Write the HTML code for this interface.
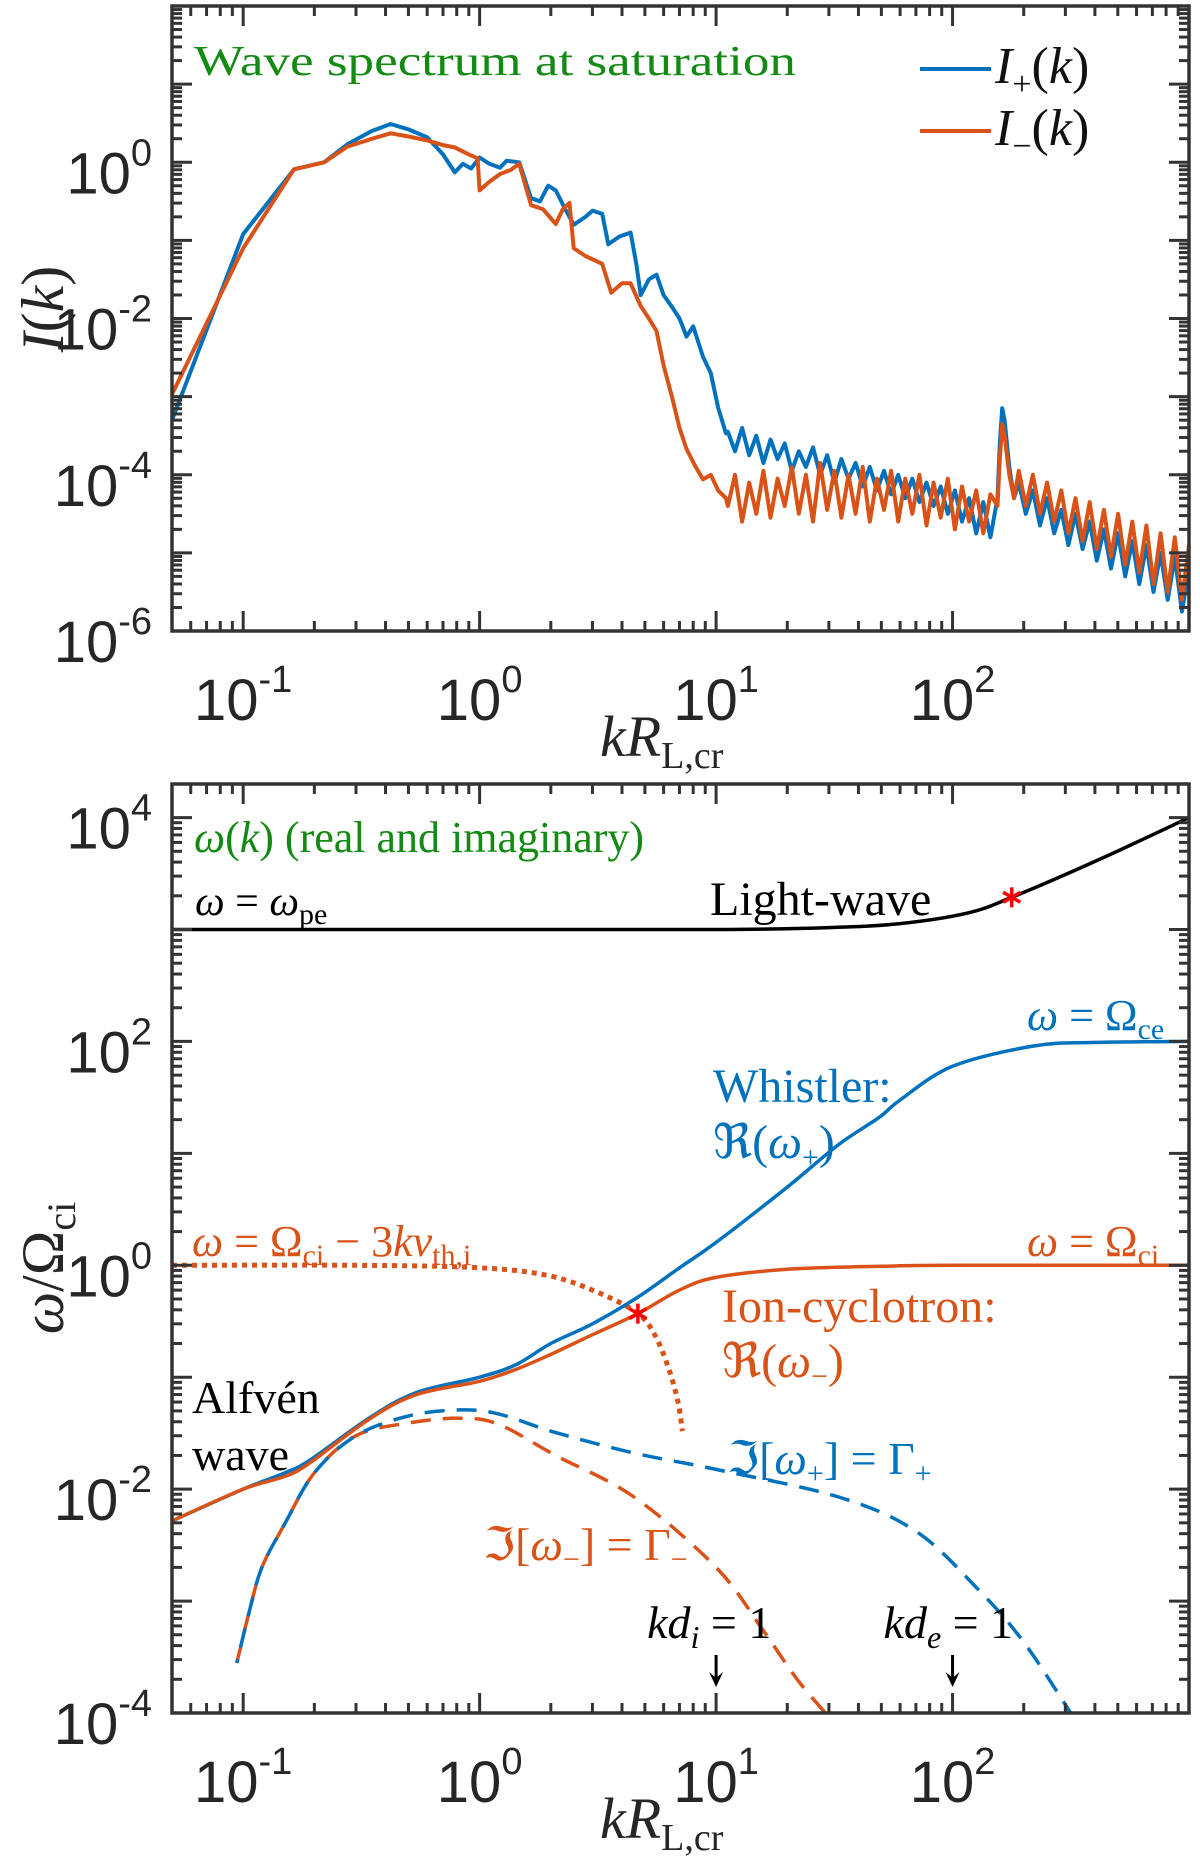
<!DOCTYPE html>
<html><head><meta charset="utf-8"><style>
html,body{margin:0;padding:0;background:#fff;}
svg{display:block;}
.tk{font-family:"Liberation Sans",sans-serif;fill:#262626;}
.sr{font-family:"Liberation Serif",serif;}
</style></head><body>
<svg id="fig" width="1200" height="1863" viewBox="0 0 1200 1863" xmlns="http://www.w3.org/2000/svg">
<g id="top"></g>
<g id="bot"></g>
</svg>
<script>
// ---------- top panel data ----------
const topKPlus = [0.05,0.1,0.164,0.22,0.276,0.35,0.42,0.5,0.6,0.7,0.785,0.85,0.92,1.0,1.1,1.22,1.3,1.47,1.65,1.8,1.95,2.1,2.3,2.5,2.8,3.0,3.3,3.5,3.9,4.35,4.6,4.8,5.2,5.6,6.0,6.5,7.0,7.5,8.0,8.8,9.5,10.2,11];
const topLogIPlus = [-3.3,-0.92,-0.09,0.0,0.23,0.4,0.49,0.42,0.32,0.1,-0.13,-0.02,-0.08,0.06,-0.02,-0.07,0.02,0.0,-0.46,-0.5,-0.3,-0.36,-0.6,-0.8,-0.7,-0.62,-0.66,-1.05,-0.95,-0.9,-1.3,-1.7,-1.5,-1.44,-1.7,-1.85,-2.0,-2.23,-2.1,-2.49,-2.7,-3.14,-3.47];
const topKMinus = [0.05,0.1,0.164,0.22,0.276,0.35,0.42,0.5,0.6,0.7,0.785,0.9,0.98,1.0,1.1,1.22,1.35,1.47,1.65,1.85,2.1,2.25,2.4,2.5,2.8,3.3,3.6,4.0,4.35,4.8,5.2,5.6,6.0,6.5,7.0,7.5,8.2,8.8,9.5,10.2,11];
const topLogIMinus = [-2.97,-1.1,-0.09,0.0,0.2,0.3,0.37,0.33,0.28,0.22,0.19,0.1,0.05,-0.36,-0.25,-0.15,-0.1,-0.02,-0.55,-0.6,-0.79,-0.6,-0.52,-1.1,-1.2,-1.3,-1.67,-1.55,-1.55,-1.84,-2.0,-2.16,-2.6,-3.0,-3.4,-3.67,-3.9,-4.06,-4.0,-4.2,-4.3];
const tailLogK = [1.05,1.08,1.11,1.14,1.17,1.20,1.23,1.26,1.29,1.32,1.35,1.38,1.41,1.44,1.47,1.50,1.53,1.56,1.59,1.62,1.65,1.68,1.71,1.74,1.77,1.80,1.83,1.86,1.89,1.92,1.95,1.98,2.01,2.04,2.07,2.10,2.13,2.16,2.19,2.20,2.21,2.22,2.23,2.24,2.26,2.28,2.31,2.34,2.37,2.40,2.43,2.46,2.49,2.52,2.55,2.58,2.61,2.64,2.67,2.70,2.73,2.76,2.79,2.82,2.85,2.88,2.91,2.94,2.97,3.00];
const tailLogIPlus = [-3.45,-3.7,-3.4,-3.75,-3.5,-3.85,-3.55,-3.8,-3.6,-3.95,-3.7,-3.9,-3.65,-4.0,-3.75,-4.1,-3.8,-4.05,-3.85,-4.15,-3.9,-4.2,-3.95,-4.25,-4.0,-4.3,-4.05,-4.35,-4.1,-4.4,-4.15,-4.5,-4.2,-4.6,-4.3,-4.75,-4.35,-4.8,-4.3,-3.6,-3.15,-3.3,-3.6,-3.9,-4.3,-4.1,-4.5,-4.2,-4.65,-4.3,-4.75,-4.45,-4.9,-4.5,-4.95,-4.6,-5.1,-4.7,-5.2,-4.75,-5.3,-4.85,-5.4,-4.9,-5.5,-5.0,-5.6,-5.05,-5.75,-5.2];
const tailLogIMinus = [-4.4,-4.0,-4.6,-4.1,-4.5,-3.95,-4.55,-4.05,-4.4,-3.9,-4.5,-4.0,-4.6,-3.85,-4.45,-3.95,-4.55,-4.0,-4.5,-3.9,-4.6,-4.05,-4.45,-3.95,-4.6,-4.05,-4.5,-4.0,-4.65,-4.1,-4.55,-4.05,-4.7,-4.15,-4.6,-4.2,-4.75,-4.25,-4.4,-3.8,-3.35,-3.5,-3.75,-4.0,-4.3,-3.95,-4.4,-4.0,-4.5,-4.1,-4.6,-4.2,-4.75,-4.3,-4.85,-4.35,-4.95,-4.45,-5.05,-4.5,-5.15,-4.6,-5.25,-4.65,-5.4,-4.75,-5.5,-4.8,-5.6,-4.9];

// ---------- bottom panel data ----------
const lightK = [0.05,1,10,30,60,115,178,425,1000];
const lightW = [1000,1000,1000,1040,1130,1400,1940,4300,10000];
const whistK = [0.05,0.1,0.15,0.19,0.34,0.54,1,1.43,2,3,4.67,7,10,20,33,49,60,100,220,400,1000];
const whistW = [0.0052,0.01,0.014,0.018,0.043,0.073,0.1,0.13,0.2,0.3,0.52,0.95,1.6,5,12,21,30,60,91,98,100];
const ionK = [0.05,0.1,0.15,0.19,0.34,0.54,1,1.43,2,3,4.67,7,10,20,50,100,1000];
const ionW = [0.0052,0.01,0.013,0.017,0.042,0.07,0.092,0.118,0.16,0.24,0.37,0.6,0.78,0.92,0.98,1.0,1.0];
const thK = [0.05,0.3,1,2,3.3,4.67,5.5,6.3,6.9,7.2];
const thW = [1.0,1.0,0.95,0.8,0.55,0.37,0.24,0.12,0.06,0.033];
const gpK = [0.094,0.106,0.12,0.15,0.2,0.3,0.5,0.82,1.2,2.1,4.5,10,33,70,127,200,316];
const gpW = [0.00028,0.0008,0.002,0.0049,0.014,0.03,0.045,0.051,0.047,0.032,0.021,0.015,0.0085,0.0042,0.0013,0.00043,0.0001];
const gmK = [0.094,0.106,0.12,0.15,0.2,0.3,0.5,0.82,1.2,2.1,4.5,10,15.6,22,29];
const gmW = [0.00028,0.0008,0.002,0.0049,0.014,0.03,0.039,0.043,0.038,0.02,0.0085,0.002,0.00057,0.0002,0.0001];
const starK = [178,4.67];
const starW = [1940,0.37];
const markerK = [10,100];
const markerText = ["i","e"];

const NS="http://www.w3.org/2000/svg";
function mk(parent,tag,attrs){const e=document.createElementNS(NS,tag);for(const a in attrs)e.setAttribute(a,attrs[a]);parent.appendChild(e);return e;}
const X0=172, X1=1189, LX0=Math.log10(0.05), LX1=3;
function xs(k){return X0+(Math.log10(k)-LX0)/(LX1-LX0)*(X1-X0);}
function xsl(lk){return X0+(lk-LX0)/(LX1-LX0)*(X1-X0);}
const TY0=6,TY1=631; function yT(l){return TY1-(l+6)/8*(TY1-TY0);}
const BY0=784,BY1=1713,BL0=-4,BL1=4.3; function yB(w){return BY1-(Math.log10(w)-BL0)/(BL1-BL0)*(BY1-BY0);}

function axes(g,yT0,yT1,lmin,lmax,ymap,labelEvery,namePrefix,skipTop){
  const ax=mk(g,'g',{});
  
  
  const st='#333';
  for(let d=-2;d<=3;d++){for(let m=1;m<=9;m++){const v=m*Math.pow(10,d);if(v<0.05||v>1000)continue;const x=xs(v);const L=m==1?20:10;
    mk(ax,'line',{x1:x,x2:x,y1:yT1,y2:yT1-L,stroke:st,'stroke-width':3});
    mk(ax,'line',{x1:x,x2:x,y1:yT0,y2:yT0+L,stroke:st,'stroke-width':3});}}
  for(let d=Math.floor(lmin);d<=Math.ceil(lmax);d++){for(let m=1;m<=9;m++){const l=d+Math.log10(m);if(l<lmin-1e-6||l>lmax+1e-6)continue;const y=ymap(l);const L=m==1?20:10;
    mk(ax,'line',{x1:X0,x2:X0+L,y1:y,y2:y,stroke:st,'stroke-width':3});
    mk(ax,'line',{x1:X1,x2:X1-L,y1:y,y2:y,stroke:st,'stroke-width':3});}}
  mk(ax,'rect',{x:X0,y:yT0,width:X1-X0,height:yT1-yT0,fill:'none',stroke:st,'stroke-width':3.5});
  [-1,0,1,2].forEach(e=>{const t=mk(ax,'text',{x:xs(Math.pow(10,e)),y:yT1+89,'text-anchor':'middle','font-size':58,class:'tk'});
    
    
    t.innerHTML='10<tspan dy="-28" font-size="38">'+e+'</tspan>';});
  for(let e=Math.ceil(lmin);e<=lmax;e++){if((e-Math.ceil(lmin))%labelEvery)continue;
    if(skipTop && e>=lmax-1e-6)continue;
    const t=mk(ax,'text',{x:152,y:ymap(e)+31,'text-anchor':'end','font-size':58,class:'tk'});
    
    
    t.innerHTML='10<tspan dy="-28" font-size="38">'+e+'</tspan>';}
  const xl=mk(ax,'text',{x:600,y:yT1+125,'font-size':58,class:'sr',fill:'#262626'});
  
  
  xl.innerHTML='<tspan font-style="italic">kR</tspan><tspan font-size="38" dy="12">L,cr</tspan>';
}
function path(g,xsA,ysA,attrs,name,smooth){
  let d;
  if(!smooth){d=xsA.map((x,i)=>(i?'L':'M')+x.toFixed(1)+','+ysA[i].toFixed(1)).join(' ');}
  else{
    const n=xsA.length;d='M'+xsA[0].toFixed(1)+','+ysA[0].toFixed(1);
    for(let i=0;i<n-1;i++){
      const x0=xsA[Math.max(i-1,0)],y0=ysA[Math.max(i-1,0)],x1=xsA[i],y1=ysA[i],x2=xsA[i+1],y2=ysA[i+1],x3=xsA[Math.min(i+2,n-1)],y3=ysA[Math.min(i+2,n-1)];
      const c1x=x1+(x2-x0)/6,c1y=y1+(y2-y0)/6,c2x=x2-(x3-x1)/6,c2y=y2-(y3-y1)/6;
      d+=' C'+c1x.toFixed(1)+','+c1y.toFixed(1)+' '+c2x.toFixed(1)+','+c2y.toFixed(1)+' '+x2.toFixed(1)+','+y2.toFixed(1);
    }
  }
  const p=mk(g,'path',Object.assign({d:d,fill:'none','stroke-linejoin':'round'},attrs));
  
  
  return p;}

// ================= TOP =================
const topG=document.getElementById('top');
const BLUE='#0072BD',ORG='#D95319',GRN='#138a13';
const pxP=topKPlus.map(xs).concat(tailLogK.map(xsl)), pyP=topLogIPlus.map(yT).concat(tailLogIPlus.map(yT));
const pxM=topKMinus.map(xs).concat(tailLogK.map(xsl)), pyM=topLogIMinus.map(yT).concat(tailLogIMinus.map(yT));
path(topG,pxP,pyP,{stroke:BLUE,'stroke-width':4},'i-plus-line');
path(topG,pxM,pyM,{stroke:ORG,'stroke-width':4},'i-minus-line');
axes(topG,TY0,TY1,-6,2,yT,2,'top',true);
let t=mk(topG,'text',{x:194,y:75,'font-size':42,class:'sr',fill:GRN,textLength:602,lengthAdjust:'spacingAndGlyphs'});


t.textContent='Wave spectrum at saturation';
[[69,BLUE,'+','legend-entry-plus'],[131,ORG,'−','legend-entry-minus']].forEach(r=>{
  const g=mk(topG,'g',{});
  
  
  mk(g,'line',{x1:920,x2:991,y1:r[0],y2:r[0],stroke:r[1],'stroke-width':4});
  const tx=mk(g,'text',{x:995,y:r[0]+14,'font-size':52,class:'sr',fill:'#111'});
  tx.innerHTML='<tspan font-style="italic">I</tspan><tspan font-size="34" dy="12">'+r[2]+'</tspan><tspan dy="-12">(</tspan><tspan font-style="italic">k</tspan>)';
});
t=mk(topG,'text',{transform:'translate(63,309) rotate(-90)','text-anchor':'middle','font-size':60,class:'sr',fill:'#262626'});


t.innerHTML='<tspan font-style="italic">I</tspan>(<tspan font-style="italic">k</tspan>)';

// ================= BOTTOM =================
const botG=document.getElementById('bot');
path(botG,lightK.map(xs),lightW.map(yB),{stroke:'#000','stroke-width':3.5},'light-wave-line',true);
path(botG,gmK.map(xs),gmW.map(yB),{stroke:ORG,'stroke-width':3.5,'stroke-dasharray':'20 12'},'gamma-minus-line',true);
path(botG,gpK.map(xs),gpW.map(yB),{stroke:BLUE,'stroke-width':3.5,'stroke-dasharray':'20 12','stroke-dashoffset':16},'gamma-plus-line',true);
path(botG,thK.map(xs),thW.map(yB),{stroke:ORG,'stroke-width':5,'stroke-dasharray':'5 5'},'thermal-cutoff-line',true);
path(botG,whistK.map(xs),whistW.map(yB),{stroke:BLUE,'stroke-width':3.5},'whistler-line',true);
path(botG,ionK.map(xs),ionW.map(yB),{stroke:ORG,'stroke-width':3.5},'ion-cyclotron-line',true);
starK.forEach((k,i)=>{const cx=xs(k),cy=yB(starW[i]);const g=mk(botG,'g',{stroke:'#ff0000','stroke-width':3.5});
  
  
  [0,60,120].forEach(a=>{const r=a*Math.PI/180;mk(g,'line',{x1:cx-10*Math.sin(r),y1:cy-10*Math.cos(r),x2:cx+10*Math.sin(r),y2:cy+10*Math.cos(r)});});});
markerK.forEach((k,i)=>{const x=xs(k);const g=mk(botG,'g',{});
  
  
  mk(g,'line',{x1:x,x2:x,y1:1655,y2:1682,stroke:'#000','stroke-width':3});
  mk(g,'path',{d:'M'+(x-7)+',1672 L'+x+',1687 L'+(x+7)+',1672 L'+x+',1678Z',fill:'#000'});
  const tx=mk(g,'text',{x:x-69,y:1638,'font-size':46,class:'sr',fill:'#000'});
  tx.innerHTML='<tspan font-style="italic">kd</tspan><tspan font-style="italic" font-size="32" dy="10">'+markerText[i]+'</tspan><tspan dy="-10"> = 1</tspan>';});
axes(botG,BY0,BY1,-4,4.3,l=>BY1-(l-BL0)/(BL1-BL0)*(BY1-BY0),2,'bottom',false);

function lbl(x,y,html,color,name,size){const e=mk(botG,'text',{x:x,y:y,'font-size':size||46,class:'sr',fill:color});
  
  
  e.innerHTML=html;return e;}
const W='<tspan font-style="italic">ω</tspan>';
lbl(194,852,W+'(<tspan font-style="italic">k</tspan>) (real and imaginary)',GRN,'dispersion-title',44);
lbl(195,915,W+' = '+W+'<tspan font-size="30" dy="9">pe</tspan>','#000','omega-pe-label',42);
lbl(710,915,'Light-wave','#000','light-wave-label',48);
lbl(1027,1030,W+' = Ω<tspan font-size="30" dy="9">ce</tspan>',BLUE,'omega-ce-label',44);
lbl(713,1102,'Whistler:',BLUE,'whistler-label',48);
lbl(713,1158,'ℜ('+W+'<tspan font-size="30" dy="9">+</tspan><tspan dy="-9">)</tspan>',BLUE,'whistler-re-label',48);
lbl(192,1256,W+' = Ω<tspan font-size="30" dy="9">ci</tspan><tspan dy="-9"> − 3</tspan><tspan font-style="italic">kv</tspan><tspan font-size="30" dy="9">th,i</tspan>',ORG,'thermal-cutoff-label',44);
lbl(1027,1256,W+' = Ω<tspan font-size="30" dy="9">ci</tspan>',ORG,'omega-ci-label',44);
lbl(722,1322,'Ion-cyclotron:',ORG,'ion-cyclotron-label',48);
lbl(722,1377,'ℜ('+W+'<tspan font-size="30" dy="9">−</tspan><tspan dy="-9">)</tspan>',ORG,'ion-cyclotron-re-label',48);
lbl(192,1413,'Alfvén','#000','alfven-label',46);
lbl(192,1470,'wave','#000','alfven-wave-label',46);
lbl(727,1474,'ℑ['+W+'<tspan font-size="30" dy="9">+</tspan><tspan dy="-9">] = Γ</tspan><tspan font-size="30" dy="9">+</tspan>',BLUE,'gamma-plus-label',46);
lbl(483,1560,'ℑ['+W+'<tspan font-size="30" dy="9">−</tspan><tspan dy="-9">] = Γ</tspan><tspan font-size="30" dy="9">−</tspan>',ORG,'gamma-minus-label',46);
t=mk(botG,'text',{transform:'translate(63,1268) rotate(-90)','text-anchor':'middle','font-size':60,class:'sr',fill:'#262626'});


t.innerHTML='<tspan font-style="italic">ω</tspan>/Ω<tspan font-size="40" dy="12">ci</tspan>';
</script>
</body></html>
